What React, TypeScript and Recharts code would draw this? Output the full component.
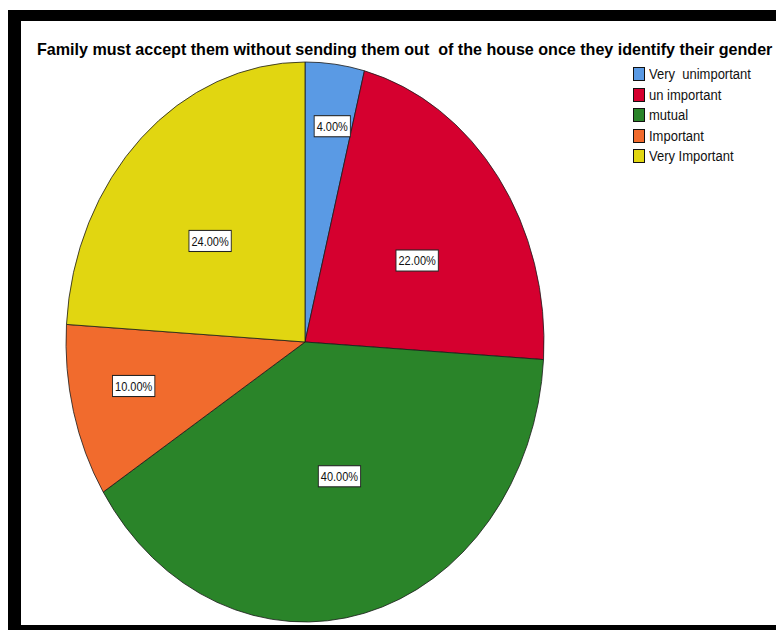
import React from 'react';
import { PieChart, Pie, Cell, Legend, Customized } from 'recharts';

const categories = ['Very  unimportant', 'un important', 'mutual', 'Important', 'Very Important'];
const percents = [4, 22, 40, 10, 24];
const colors = ['#5A9AE4', '#D5002F', '#2A8429', '#F16B2D', '#E1D611'];
const title = 'Family must accept them without sending them out  of the house once they identify their gender';

const data = categories.map((name, i) => ({ name, value: percents[i] }));

const Y_STRETCH = 280 / 239;
const RAD = Math.PI / 180;
const FONT = '"Liberation Sans", Arial, sans-serif';

function EllipseSector(props: any) {
  const { cx, cy, outerRadius, startAngle, endAngle, fill } = props;
  const rx = outerRadius;
  const ry = outerRadius * Y_STRETCH;
  const x1 = cx + rx * Math.cos(startAngle * RAD);
  const y1 = cy - ry * Math.sin(startAngle * RAD);
  const x2 = cx + rx * Math.cos(endAngle * RAD);
  const y2 = cy - ry * Math.sin(endAngle * RAD);
  const large = Math.abs(endAngle - startAngle) > 180 ? 1 : 0;
  const sweep = endAngle < startAngle ? 1 : 0;
  return (
    <path
      d={`M${cx},${cy}L${x1},${y1}A${rx},${ry} 0 ${large} ${sweep} ${x2},${y2}Z`}
      fill={fill}
      stroke="#1a1a1a"
      strokeWidth={0.8}
      strokeLinejoin="round"
    />
  );
}

function textWidth(s: string, size: number) {
  let w = 0;
  for (const ch of s) {
    if (ch === '.') w += 0.278;
    else if (ch === '%') w += 0.889;
    else w += 0.556;
  }
  return w * size;
}

function renderLabel(props: any) {
  const { cx, cy, midAngle, outerRadius, percent, value } = props;
  const f = percent < 0.07 ? 0.91 : percent < 0.15 ? 0.74 : 0.58;
  const x = cx + outerRadius * f * Math.cos(midAngle * RAD);
  const y = cy - outerRadius * f * Math.sin(midAngle * RAD);
  const txt = `${Number(value).toFixed(2)}%`;
  const w = textWidth(txt, 11) + 5;
  return (
    <g transform={`translate(${x},${y}) scale(1,${Y_STRETCH})`}>
      <rect x={-w / 2} y={-9} width={w} height={18} fill="#fff" stroke="#222" strokeWidth={0.9} />
      <text x={0} y={4} textAnchor="middle" fontSize={11} fontFamily={FONT} fill="#111">
        {txt}
      </text>
    </g>
  );
}

function renderLegend(props: any) {
  const payload = [...(props.payload || [])].sort(
    (a: any, b: any) => categories.indexOf(a.value) - categories.indexOf(b.value)
  );
  return (
    <div>
      {payload.map((entry: any, i: number) => (
        <div key={i} style={{ position: 'relative', height: 20.5 }}>
          <div
            style={{
              position: 'absolute',
              left: 0,
              top: 3,
              width: 12,
              height: 14,
              boxSizing: 'border-box',
              border: '1px solid #111',
              background: entry.color,
            }}
          />
          <div
            style={{
              position: 'absolute',
              left: 16,
              top: 2,
              fontFamily: FONT,
              fontSize: 13,
              lineHeight: '13px',
              whiteSpace: 'pre',
              color: '#111',
              transform: `scaleY(${Y_STRETCH})`,
              transformOrigin: '0 0',
            }}
          >
            {entry.value}
          </div>
        </div>
      ))}
    </div>
  );
}

function Title() {
  return (
    <text
      transform="translate(29,47) scale(1,1.04)"
      x={0}
      y={0}
      fontSize={16.1}
      fontWeight="bold"
      fontFamily={FONT}
      fill="#000"
      style={{ whiteSpace: 'pre' }}
      xmlSpace="preserve"
    >
      {title}
    </text>
  );
}

export default function App() {
  return (
    <div style={{ position: 'relative', width: 776, height: 622, overflow: 'hidden', background: '#fff' }}>
      <div
        style={{
          position: 'absolute',
          left: 0,
          top: 2,
          width: 774,
          height: 620,
          boxSizing: 'border-box',
          borderLeft: '13px solid #000',
          borderTop: '11px solid #000',
          borderRight: '1px solid #8a8a8a',
          borderBottom: '5px solid #000',
          background: '#fff',
        }}
      />
      <div style={{ position: 'absolute', left: 0, top: 0, width: 773, height: 622, overflow: 'hidden' }}>
        <PieChart width={773} height={622} margin={{ top: 0, right: 0, bottom: 0, left: 0 }}>
          <Customized component={Title} />
          <Pie
            data={data}
            dataKey="value"
            nameKey="name"
            cx={297}
            cy={334}
            outerRadius={239}
            startAngle={90}
            endAngle={-270}
            label={renderLabel}
            labelLine={false}
            shape={EllipseSector}
            isAnimationActive={false}
          >
            {data.map((d, i) => (
              <Cell key={d.name} fill={colors[i]} />
            ))}
          </Pie>
          <Legend
            content={renderLegend}
            layout="vertical"
            verticalAlign="top"
            align="right"
            wrapperStyle={{ left: 625, top: 56, width: 140, right: 'auto', bottom: 'auto' }}
          />
        </PieChart>
      </div>
    </div>
  );
}
